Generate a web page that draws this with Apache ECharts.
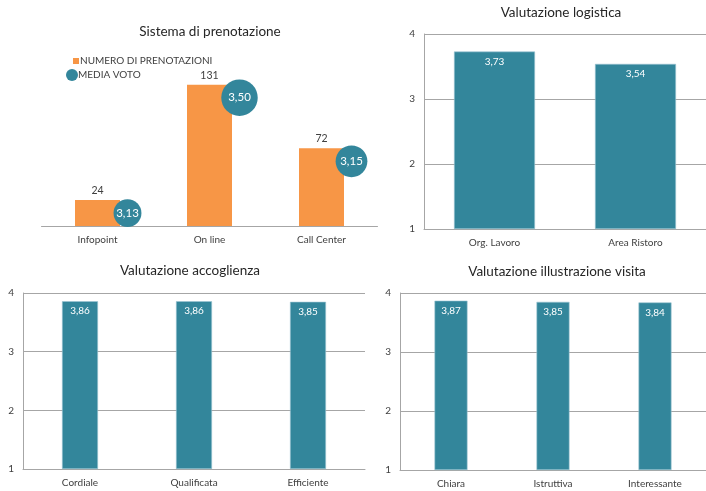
<!DOCTYPE html>
<html>
<head>
<meta charset="utf-8">
<script src="https://cdn.jsdelivr.net/npm/echarts@6/dist/echarts.min.js"></script>
<style>
html,body{margin:0;padding:0;background:#fff;}
#c{width:706px;height:491px;}
</style>
</head>
<body>
<div id="c"></div>
<script>
// ---- data ----
const bookingCategories = ['Infopoint', 'On line', 'Call Center'];
const bookingCounts = [24, 131, 72];
const bookingVotes = [3.13, 3.50, 3.15];

const logisticsCategories = ['Org. Lavoro', 'Area Ristoro'];
const logisticsValues = [3.73, 3.54];

const welcomeCategories = ['Cordiale', 'Qualificata', 'Efficiente'];
const welcomeValues = [3.86, 3.86, 3.85];

const visitCategories = ['Chiara', 'Istruttiva', 'Interessante'];
const visitValues = [3.87, 3.85, 3.84];

const ratingTicks = [1, 2, 3, 4];

const titles = ['Sistema di prenotazione', 'Valutazione logistica', 'Valutazione accoglienza', 'Valutazione illustrazione visita'];
const seriesNames = ['NUMERO DI PRENOTAZIONI', 'MEDIA VOTO'];

// ---- styling ----
const FONT = 'Lato, "Open Sans", sans-serif';
const ORANGE = '#F79646';
const TEAL = '#33869B';
const GRID_GRAY = '#A6A6A6';
const TXT = '#404040';
const fmt = v => v.toFixed(2).replace('.', ',');

const chart = echarts.init(document.getElementById('c'), null, {renderer: 'canvas'});

function ratingY(gridIndex) {
  return {
    gridIndex, type: 'value', min: ratingTicks[0], max: ratingTicks[ratingTicks.length - 1], interval: 1,
    startValue: ratingTicks[0],
    axisLine: {show: true, lineStyle: {color: GRID_GRAY, width: 1}},
    axisTick: {show: false},
    splitLine: {show: true, lineStyle: {color: GRID_GRAY, width: 1}},
    axisLabel: {color: TXT, fontFamily: FONT, fontSize: 10, margin: 9}
  };
}
function catX(gridIndex, data) {
  return {
    gridIndex, type: 'category', data,
    axisLine: {show: true, lineStyle: {color: GRID_GRAY, width: 1}},
    axisTick: {show: false},
    axisLabel: {color: TXT, fontFamily: FONT, fontSize: 10, margin: 9}
  };
}
function ratingBar(idx, data, barWidth) {
  return {
    type: 'bar', xAxisIndex: idx, yAxisIndex: idx, data, barWidth,
    clip: true,
    itemStyle: {color: TEAL, borderColor: '#9CC5D1', borderWidth: 0.6},
    label: {show: true, position: 'insideTop', distance: 5, color: '#fff', fontFamily: FONT, fontSize: 10,
      formatter: p => fmt(p.value)},
    z: 2
  };
}

const titleStyle = {color: '#262626', fontFamily: FONT, fontSize: 13.5, fontWeight: 'normal'};

const option = {
  backgroundColor: '#fff',
  animation: false,
  textStyle: {fontFamily: FONT},
  title: [
    {text: titles[0], left: 210, top: 25, textAlign: 'center', padding: 0, textStyle: titleStyle},
    {text: titles[1], left: 561, top: 6, textAlign: 'center', padding: 0, textStyle: titleStyle},
    {text: titles[2], left: 190, top: 264, textAlign: 'center', padding: 0, textStyle: titleStyle},
    {text: titles[3], left: 557, top: 265, textAlign: 'center', padding: 0, textStyle: titleStyle}
  ],
  legend: [
    {data: [seriesNames[0]], left: 73, top: 56, padding: 0, icon: 'rect', itemWidth: 6, itemHeight: 6,
      selectedMode: false, textStyle: {color: TXT, fontFamily: FONT, fontSize: 10, padding: [0, 0, 0, -4]}},
    {data: [seriesNames[1]], left: 66, top: 69, padding: 0, icon: 'circle', itemWidth: 12, itemHeight: 12,
      selectedMode: false, textStyle: {color: TXT, fontFamily: FONT, fontSize: 10, padding: [0, 0, 0, -5]}}
  ],
  grid: [
    {left: 41.5, right: 328.5, top: 75, bottom: 265},
    {left: 424, right: -1, top: 34, bottom: 262},
    {left: 23, right: 341, top: 293, bottom: 22},
    {left: 400, right: -10, top: 293, bottom: 21}
  ],
  xAxis: [
    catX(0, bookingCategories),
    catX(1, logisticsCategories),
    catX(2, welcomeCategories),
    catX(3, visitCategories)
  ],
  yAxis: [
    {gridIndex: 0, type: 'value', min: 0, max: 140, show: false, splitLine: {show: false}},
    ratingY(1), ratingY(2), ratingY(3)
  ],
  series: [
    {
      name: seriesNames[0], type: 'bar', xAxisIndex: 0, yAxisIndex: 0, data: bookingCounts, barWidth: 45,
      itemStyle: {color: ORANGE},
      label: {show: true, position: 'top', distance: 4, color: TXT, fontFamily: FONT, fontSize: 10.5},
      z: 2
    },
    {
      name: seriesNames[1], type: 'scatter', xAxisIndex: 0, yAxisIndex: 0,
      data: bookingCategories.map((c, i) => [i, bookingCounts[i], bookingVotes[i]]),
      symbol: 'circle',
      symbolSize: d => 26 + d[1] * 0.08,
      symbolOffset: [30, 13],
      itemStyle: {color: TEAL, opacity: 1},
      label: {show: true, position: 'inside', color: '#fff', fontFamily: FONT, fontSize: 11.5,
        formatter: p => fmt(p.value[2])},
      z: 5
    },
    ratingBar(1, logisticsValues, 81),
    ratingBar(2, welcomeValues, 36),
    ratingBar(3, visitValues, 33)
  ]
};
chart.setOption(option);
</script>
</body>
</html>
